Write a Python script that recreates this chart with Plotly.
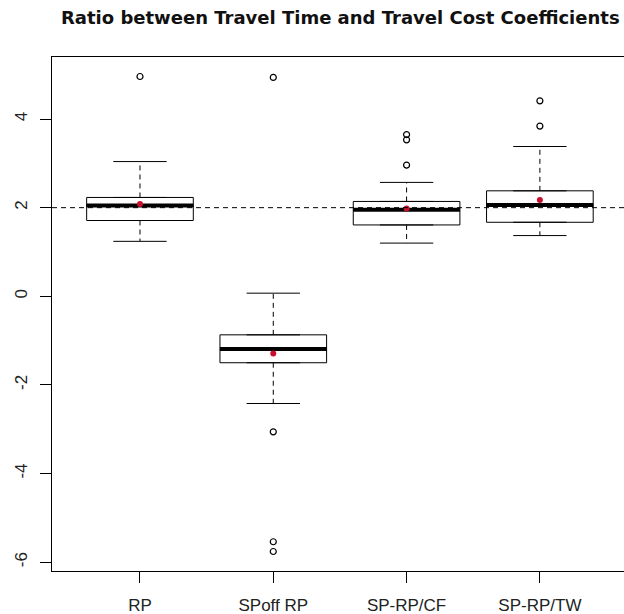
import plotly.graph_objects as go

# ---- data ----
categories = ["RP", "SPoff RP", "SP-RP/CF", "SP-RP/TW"]
positions = [1, 2, 3, 4]
q1 = [1.71, -1.50, 1.61, 1.67]
median = [2.05, -1.19, 1.95, 2.06]
q3 = [2.23, -0.87, 2.14, 2.38]
lower_whisker = [1.24, -2.42, 1.20, 1.37]
upper_whisker = [3.04, 0.07, 2.57, 3.38]
means = [2.08, -1.29, 1.98, 2.17]
outliers = [
    [4.96],
    [4.94, -3.06, -5.54, -5.76],
    [2.96, 3.53, 3.65],
    [3.84, 4.41],
]
reference_value = 2
y_ticks = [-6, -4, -2, 0, 2, 4]
title_text = "Ratio between Travel Time and Travel Cost Coefficients"

# ---- style ----
BOX_W = 0.8
CAP_W = 0.4
FONT = "Liberation Sans, Arial, sans-serif"
TITLE_FONT = "DejaVu Sans, Liberation Sans, sans-serif"

fig = go.Figure()

# boxes
for p, a, m, b in zip(positions, q1, median, q3):
    fig.add_trace(go.Box(
        x=[p], q1=[a], median=[m], q3=[b], lowerfence=[a], upperfence=[b],
        width=BOX_W, fillcolor="white", line=dict(color="black", width=1),
        boxpoints=False, showlegend=False, hoverinfo="skip",
    ))

# whiskers (dashed)
wx, wy = [], []
for p, a, b, lo, hi in zip(positions, q1, q3, lower_whisker, upper_whisker):
    wx += [p, p, None, p, p, None]
    wy += [b, hi, None, a, lo, None]
fig.add_trace(go.Scatter(x=wx, y=wy, mode="lines",
                         line=dict(color="black", width=1, dash="5px,4px"),
                         showlegend=False, hoverinfo="skip"))

# caps
cx, cy = [], []
for p, lo, hi in zip(positions, lower_whisker, upper_whisker):
    cx += [p - CAP_W / 2, p + CAP_W / 2, None, p - CAP_W / 2, p + CAP_W / 2, None]
    cy += [hi, hi, None, lo, lo, None]
fig.add_trace(go.Scatter(x=cx, y=cy, mode="lines",
                         line=dict(color="black", width=1),
                         showlegend=False, hoverinfo="skip"))

# medians (thick)
mx, my = [], []
for p, m in zip(positions, median):
    mx += [p - BOX_W / 2, p + BOX_W / 2, None]
    my += [m, m, None]
fig.add_trace(go.Scatter(x=mx, y=my, mode="lines",
                         line=dict(color="black", width=4),
                         showlegend=False, hoverinfo="skip"))

# outliers
ox, oy = [], []
for p, vals in zip(positions, outliers):
    ox += [p] * len(vals)
    oy += vals
fig.add_trace(go.Scatter(x=ox, y=oy, mode="markers",
                         marker=dict(symbol="circle-open", size=6, color="black",
                                     line=dict(width=1.2, color="black")),
                         showlegend=False, hoverinfo="skip"))

# means
fig.add_trace(go.Scatter(x=positions, y=means, mode="markers",
                         marker=dict(symbol="circle", size=6, color="#c8102e"),
                         showlegend=False, hoverinfo="skip"))

# reference line
fig.add_hline(y=reference_value, line=dict(color="black", width=1, dash="5px,4px"))

L, R, T, B = 52, 0, 57, 43
W, H = 624, 614
plot_w = W - L - R
x_lo = 0.34
px_per_unit = 133.3
x_hi = x_lo + plot_w / px_per_unit

fig.add_annotation(
    text="<b>" + title_text + "</b>",
    xref="paper", yref="paper",
    x=(340 - L) / plot_w, y=1 + (T - 17) / (H - T - B),
    xanchor="center", yanchor="middle", showarrow=False,
    font=dict(family=TITLE_FONT, size=18, color="#111111"),
)

fig.update_layout(
    width=W, height=H,
    margin=dict(l=L, r=R, t=T, b=B, pad=0, autoexpand=False),
    paper_bgcolor="white", plot_bgcolor="white",
    font=dict(family=FONT, size=17, color="#222222"),
    showlegend=False,
    boxmode="overlay",
)
fig.update_xaxes(
    range=[x_lo, x_hi], tickmode="array", tickvals=positions, ticktext=categories,
    ticks="outside", ticklen=11, tickcolor="black", tickwidth=1,
    showline=True, mirror=True, linecolor="black", linewidth=1,
    showgrid=False, zeroline=False, ticklabelstandoff=8, automargin=False,
    tickfont=dict(family=FONT, size=17, color="#222222"),
)
fig.update_yaxes(
    range=[-6.2, 5.4], tickmode="array", tickvals=y_ticks,
    ticktext=[str(v) for v in y_ticks], tickangle=-90,
    ticks="outside", ticklen=11, tickcolor="black", tickwidth=1,
    showline=True, mirror=False, linecolor="black", linewidth=1,
    showgrid=False, zeroline=False, ticklabelstandoff=6, automargin=False,
    tickfont=dict(family=FONT, size=17, color="#222222"),
)

fig.write_html(
    "out.html",
    config={"displayModeBar": False},
    post_script="document.body.style.margin='0';document.body.style.overflow='hidden';",
)
